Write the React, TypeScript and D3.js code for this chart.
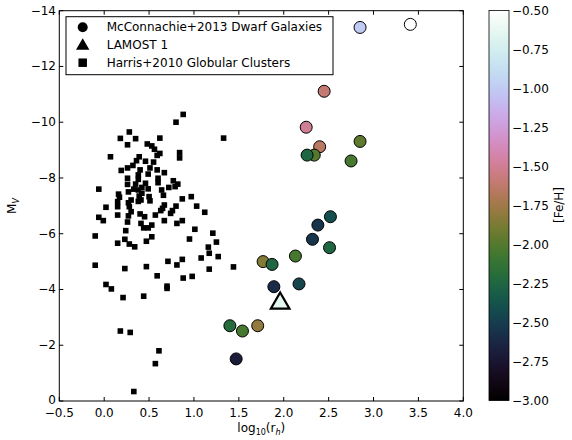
import React from "react";
import * as d3 from "d3";

// Harris (2010) globular clusters: log10(r_h) and M_V
const gcLogR = [
  0.88, 0.8, 0.28, 0.18, 0.35, 0.62, 1.33, 0.26, 0.48, 0.53, 0.56, 0.07, 0.62, 0.59, 0.84, 0.84,
  0.39, 0.36, 0.46, 0.55, 0.32, 0.26, 0.19, 0.4, 0.51, 0.59, 0.67, 0.38, 0.49, 0.26, 0.38, 0.6,
  0.77, 0.82, -0.06, 0.26, 0.35, 0.46, 0.6, 0.42, 0.72, 0.79, 0.33, 0.38, 0.49, 0.64, 0.16, 0.27,
  0.42, 0.17, 0.39, 0.5, 0.66, 0.97, 0.87, 0.3, 0.41, 0.51, 0.15, 0.27, 0.38, 0.02, 0.15, 0.28,
  0.67, 0.65, 0.8, 1.03, 0.3, 0.63, 0.76, 1.12, -0.06, -0.01, 0.15, 0.27, 0.4, 0.57, 0.74, 0.26,
  0.45, 0.41, 0.53, 0.67, 0.81, 0.87, 0.44, 0.49, 0.24, 1.01, -0.1, 0.53, 1.21, 0.23, 0.95, 0.47,
  0.15, 0.28, 0.34, 1.25, 1.16, 1.17, 1.08, 1.27, -0.1, 0.23, 0.47, 0.71, 0.81, 0.87, 1.17, 1.44,
  0.59, 0.88, 0.98, 0.02, 0.08, 0.21, 0.44, 0.7, 0.7, 0.18, 0.29, 0.61, 0.57, 0.33,
];
const gcMv = [
  -10.28, -10.0, -9.65, -9.42, -9.41, -9.43, -9.43, -9.19, -9.22, -9.15, -9.03, -8.76, -8.88, -8.81, -8.91, -8.72,
  -8.76, -8.62, -8.6, -8.57, -8.45, -8.36, -8.27, -8.29, -8.36, -8.29, -8.19, -8.11, -8.14, -7.99, -7.95, -7.99,
  -7.9, -7.78, -7.6, -7.77, -7.78, -7.81, -7.83, -7.66, -7.66, -7.69, -7.6, -7.57, -7.61, -7.57, -7.42, -7.5,
  -7.45, -7.31, -7.35, -7.33, -7.38, -7.33, -7.25, -7.21, -7.21, -7.18, -7.15, -7.11, -7.16, -6.95, -6.97, -6.97,
  -7.03, -6.91, -6.99, -6.99, -6.79, -6.83, -6.83, -6.77, -6.59, -6.47, -6.67, -6.64, -6.71, -6.67, -6.73, -6.42,
  -6.61, -6.37, -6.31, -6.47, -6.37, -6.47, -6.21, -6.21, -6.11, -6.16, -5.92, -5.89, -6.02, -5.8, -5.81, -5.73,
  -5.66, -5.63, -5.53, -5.7, -5.52, -5.3, -5.13, -5.18, -4.87, -4.75, -4.82, -5.01, -4.88, -5.08, -4.73, -4.81,
  -4.49, -4.41, -4.47, -4.18, -4.02, -3.71, -3.76, -4.12, -4.04, -2.51, -2.46, -1.8, -1.34, -0.34,
];

// McConnachie (2013) dwarf galaxies
const dwarfLogR = [
  3.41, 2.85, 2.45, 2.25, 2.4, 2.34, 2.26, 2.85, 2.75, 2.52, 2.38, 2.32, 2.51, 1.77, 1.87, 2.13,
  1.89, 2.17, 1.4, 1.54, 1.71, 1.47,
];
const dwarfMv = [
  -13.51, -13.4, -11.11, -9.82, -9.12, -8.82, -8.82, -9.31, -8.61, -6.61, -6.31, -5.8, -5.5, -5.0, -4.9, -5.2,
  -4.1, -4.2, -2.7, -2.51, -2.7, -1.51,
];
const dwarfFeh = [
  -0.5, -1.0, -1.6, -1.5, -1.65, -2.0, -2.25, -1.97, -2.05, -2.4, -2.55, -2.55, -2.25, -1.85, -2.25, -2.05,
  -2.6, -2.45, -2.2, -2.05, -1.8, -2.7,
];

// LAMOST 1
const lamostLogR = [1.96];
const lamostMv = [-3.56];
const lamostFeh = [-0.65];

const xTicks = [-0.5, 0, 0.5, 1, 1.5, 2, 2.5, 3, 3.5, 4];
const yTicks = [-14, -12, -10, -8, -6, -4, -2, 0];
const cbTicks = [-3, -2.75, -2.5, -2.25, -2, -1.75, -1.5, -1.25, -1, -0.75, -0.5];
const legendLabels = ["McConnachie+2013 Dwarf Galaxies", "LAMOST 1", "Harris+2010 Globular Clusters"];

// matplotlib cubehelix (start .5, rot -1.5, hue 1)
function cubehelix(t: number) {
  const phi = 2 * Math.PI * (0.5 / 3 + -1.5 * t);
  const a = (t * (1 - t)) / 2;
  const c = Math.cos(phi);
  const s = Math.sin(phi);
  const clip = (v: number) => Math.max(0, Math.min(1, v));
  const r = clip(t + a * (-0.14861 * c + 1.78277 * s));
  const g = clip(t + a * (-0.29227 * c - 0.90649 * s));
  const b = clip(t + a * (1.97294 * c));
  return d3.rgb(r * 255, g * 255, b * 255).formatHex();
}

const minus = (s: string) => s.replace("-", "\u2212");

export default function App() {
  const x = d3.scaleLinear().domain([-0.5, 4]).range([59.3, 463.3]);
  const y = d3.scaleLinear().domain([-14, 0]).range([10.7, 401]);
  const feh = d3.scaleLinear().domain([-3, -0.5]).range([0, 1]).clamp(true);
  const color = (v: number) => cubehelix(feh(v));
  const cb = d3.scaleLinear().domain([-3, -0.5]).range([400.5, 10.5]);
  const stops = d3.range(0, 1.0001, 0.02);
  const font = "DejaVu Sans";
  const [x0, x1] = x.range();
  const [y0, y1] = y.range();

  return (
    <div style={{ position: "fixed", left: 0, top: 0 }}>
      <svg width={572} height={440} style={{ display: "block", background: "#fff" }} fontFamily={font}>
        <defs>
          <linearGradient id="cbgrad" x1="0" y1="1" x2="0" y2="0">
            {stops.map((t) => (
              <stop key={t} offset={t} stopColor={cubehelix(t)} />
            ))}
          </linearGradient>
        </defs>

        {/* globular clusters */}
        {gcLogR.map((v, i) => (
          <rect key={"gc" + i} x={x(v) - 2.8} y={y(gcMv[i]) - 2.8} width={5.6} height={5.6} fill="#000" />
        ))}

        {/* dwarf galaxies */}
        {dwarfLogR.map((v, i) => (
          <circle key={"dw" + i} cx={x(v)} cy={y(dwarfMv[i])} r={6} fill={color(dwarfFeh[i])} stroke="#000" strokeWidth={1} />
        ))}

        {/* LAMOST 1 */}
        {lamostLogR.map((v, i) => {
          const cx = x(v);
          const cy = y(lamostMv[i]);
          const sym = d3.symbol(d3.symbolTriangle, 150)();
          return (
            <path key={"la" + i} d={sym || ""} transform={`translate(${cx},${cy + 1.5})`} fill={color(lamostFeh[i])} stroke="#000" strokeWidth={2.2} strokeLinejoin="miter" />
          );
        })}

        {/* frame + ticks */}
        <rect x={x0} y={y0} width={x1 - x0} height={y1 - y0} fill="none" stroke="#000" strokeWidth={1} />
        {xTicks.map((t) => (
          <g key={"xt" + t}>
            <line x1={x(t)} x2={x(t)} y1={y1} y2={y1 - 4} stroke="#000" />
            <line x1={x(t)} x2={x(t)} y1={y0} y2={y0 + 4} stroke="#000" />
            <text x={x(t)} y={417} fontSize={12} textAnchor="middle">
              {minus(t.toFixed(1))}
            </text>
          </g>
        ))}
        {yTicks.map((t) => (
          <g key={"yt" + t}>
            <line x1={x0} x2={x0 + 4} y1={y(t)} y2={y(t)} stroke="#000" />
            <line x1={x1} x2={x1 - 4} y1={y(t)} y2={y(t)} stroke="#000" />
            <text x={56} y={y(t) - (t === 0 ? 1 : 0)} fontSize={12} textAnchor="end" dominantBaseline="central">
              {minus(String(t))}
            </text>
          </g>
        ))}

        {/* axis labels */}
        <text x={x(1.75)} y={432} fontSize={12} textAnchor="middle">
          log<tspan fontSize={8} dy={3}>10</tspan>
          <tspan dy={-3}>(r</tspan>
          <tspan fontSize={8} dy={3} fontStyle="italic">h</tspan>
          <tspan dy={-3}>)</tspan>
        </text>
        <text transform="translate(16,206) rotate(-90)" fontSize={12} textAnchor="middle">
          M<tspan fontSize={8} dy={3} fontStyle="italic">V</tspan>
        </text>

        {/* legend */}
        <rect x={66} y={16.7} width={267} height={58} fill="#fff" stroke="#000" strokeWidth={1} />
        {legendLabels.map((lab, i) => {
          const ly = 27.3 + i * 17.7;
          const sym = [d3.symbolCircle, d3.symbolTriangle, d3.symbolSquare][i];
          const size = [78, 78, 72][i];
          return (
            <g key={lab}>
              <path d={d3.symbol(sym, size)() || ""} transform={`translate(82.7,${ly + (i === 1 ? 1 : 0)})`} fill="#000" />
              <text x={106.7} y={ly} fontSize={12} dominantBaseline="central">
                {lab}
              </text>
            </g>
          );
        })}

        {/* colorbar */}
        <rect x={489} y={cb(-0.5)} width={20} height={cb(-3) - cb(-0.5)} fill="url(#cbgrad)" stroke="#000" strokeWidth={0.8} />
        {cbTicks.map((t) => (
          <text key={"cb" + t} x={512} y={cb(t)} fontSize={12} dominantBaseline="central">
            {minus(t.toFixed(2))}
          </text>
        ))}
        <text transform="translate(563,205) rotate(-90)" fontSize={12} textAnchor="middle">
          [Fe/H]
        </text>
      </svg>
    </div>
  );
}
